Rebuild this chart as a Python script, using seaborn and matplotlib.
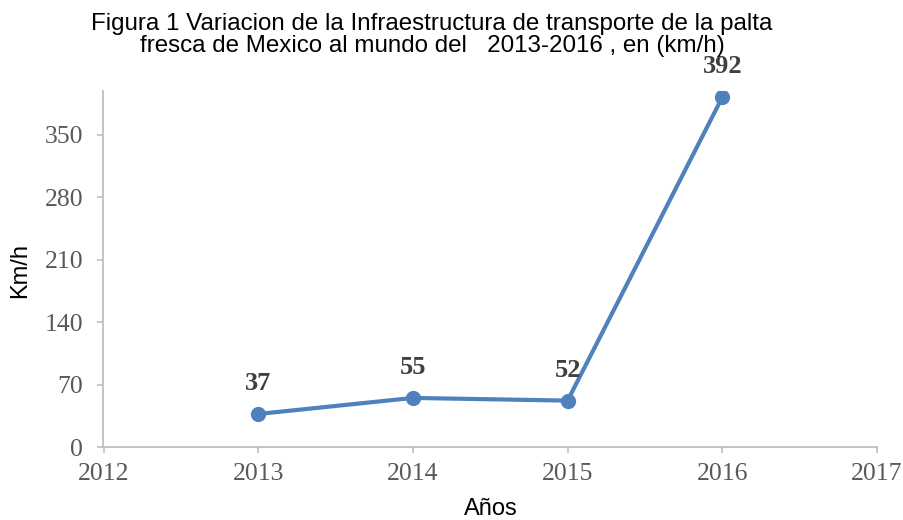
import matplotlib
matplotlib.use("Agg")
import matplotlib.pyplot as plt
import seaborn as sns
import pandas as pd

years = [2013, 2014, 2015, 2016]
kmh = [37, 55, 52, 392]
x_ticks = [2012, 2013, 2014, 2015, 2016, 2017]
y_ticks = [0, 70, 140, 210, 280, 350]
title = "Figura 1 Variacion de la Infraestructura de transporte de la palta\nfresca de Mexico al mundo del   2013-2016 , en (km/h)"

df = pd.DataFrame({"Años": years, "Km/h": kmh})

sns.set_theme(style="white")
plt.rcParams["font.family"] = ["Liberation Sans", "DejaVu Sans"]

fig = plt.figure(figsize=(9.04, 5.2), dpi=100)
ax = fig.add_axes([103.5 / 904, 1 - 447 / 520, (877 - 103.5) / 904, (447 - 91) / 520])

blue = "#4f81bd"
sns.lineplot(data=df, x="Años", y="Km/h", ax=ax, color=blue, linewidth=3.0,
             marker="o", markersize=11, markeredgewidth=0, markerfacecolor=blue)

ax.set_xlim(2012, 2017)
ax.set_ylim(0, 399)
ax.set_xticks(x_ticks)
ax.set_yticks(y_ticks)
ax.set_xticklabels([str(v) for v in x_ticks])
ax.set_yticklabels([str(v) for v in y_ticks])

for side in ["top", "right"]:
    ax.spines[side].set_visible(False)
for side in ["left", "bottom"]:
    ax.spines[side].set_color("#bfbfbf")
    ax.spines[side].set_linewidth(1.3)

ax.tick_params(axis="both", which="major", direction="out", length=4.5, width=1.2,
               color="#bfbfbf", labelcolor="#595959")
ax.tick_params(axis="x", pad=7, bottom=True)
ax.tick_params(axis="y", pad=10, left=True)
for lab in ax.get_xticklabels() + ax.get_yticklabels():
    lab.set_fontfamily("Liberation Serif")
    lab.set_fontsize(18.5)

for xv, yv in zip(years, kmh):
    ax.annotate(str(yv), (xv, yv), xytext=(0, 22), textcoords="offset points",
                ha="center", va="center", fontsize=19, fontweight="bold",
                family="Liberation Serif", color="#404040", annotation_clip=False)

ax.set_xlabel("")
ax.set_ylabel("")
fig.text(20 / 904, 1 - 270 / 520, "Km/h", rotation=90, ha="center", va="center",
         fontsize=17, color="black")
fig.text(491 / 904, 1 - 509 / 520, "Años", ha="center", va="center",
         fontsize=17, color="black")
fig.text(432 / 904, 1 - 35 / 520, title, ha="center", va="center",
         multialignment="center", fontsize=17.4, color="black", linespacing=1.05)

fig.savefig("out.png", dpi=100)
